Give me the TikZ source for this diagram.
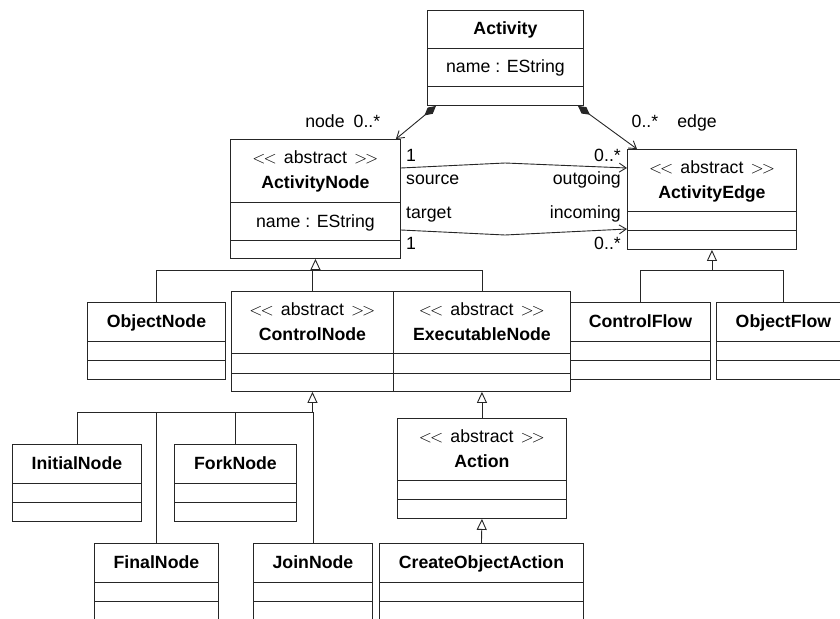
\documentclass[tikz,border=0pt]{standalone}
\usepackage{fontspec}
\setmainfont{Liberation Sans}
\usetikzlibrary{arrows.meta,calc}
\newcommand\umlbox[7]{%
  \node[clsbox, minimum width=#4pt, minimum height=#5pt, anchor=north west] (#1) at (#2,#3) {};
  \draw[clsline] ($(#1.north west)+(0,#6)$) -- ($(#1.north east)+(0,#6)$);
  \draw[clsline] ($(#1.north west)+(0,#7)$) -- ($(#1.north east)+(0,#7)$);
}
\newcommand\umltitle[2]{%
  \node[lbl, anchor=base] (#1-t) at ($(#1.north)+(0,25)$) {\textbf{#2}};
}
\newcommand\umlabstract[2]{%
  \node[lbl, anchor=base] (#1-s) at ($(#1.north)+(0,24)$) {\ensuremath{<\mkern-2mu<}\hspace{0.4em}abstract\hspace{0.4em}\ensuremath{>\mkern-2mu>}};
  \node[lbl, anchor=base] (#1-t) at ($(#1.north)+(0,49)$) {\textbf{#2}};
}
\begin{document}
\begin{tikzpicture}[x=1pt,y=-1pt,
  clsbox/.style={draw=black!85, line width=0.9pt, inner sep=0pt, rectangle},
  clsline/.style={draw=black!85, line width=0.9pt},
  conn/.style={draw=black!85, line width=0.9pt},
  lbl/.style={inner sep=0pt, font=\fontsize{17.7}{21}\selectfont},
  gen/.style={conn, -{Triangle[open, length=11pt, width=10pt, fill=white]}},
  assoc/.style={conn, -{Straight Barb[length=7pt, width=9pt]}},
  comp/.style={conn, {Diamond[length=15pt, width=8pt]}-{Straight Barb[length=7pt, width=9pt]}}
]
\useasboundingbox (0,0) rectangle (840,618);
\clip (0,0) rectangle (840,618);

% classes
\umlbox{act}{427}{10}{156}{95}{38}{76}
\umltitle{act}{Activity}
\node[lbl, anchor=base] (act-a) at ($(act.north)+(0,63)$) {name : EString};

\umlbox{anode}{230}{139}{170}{119}{63}{101}
\umlabstract{anode}{ActivityNode}
\node[lbl, anchor=base] (anode-a) at ($(anode.north)+(0,88)$) {name : EString};

\umlbox{aedge}{627}{149}{169}{100}{62}{81}
\umlabstract{aedge}{ActivityEdge}

\umlbox{onode}{87}{302}{138}{77}{39}{58}
\umltitle{onode}{ObjectNode}

\umlbox{cnode}{231}{291}{162}{100}{62}{82}
\umlabstract{cnode}{ControlNode}

\umlbox{enode}{393}{291}{177}{100}{62}{82}
\umlabstract{enode}{ExecutableNode}

\umlbox{cflow}{570}{302}{140}{77}{39}{58}
\umltitle{cflow}{ControlFlow}

\umlbox{oflow}{716}{302}{134}{77}{39}{58}
\umltitle{oflow}{ObjectFlow}

\umlbox{init}{12}{444}{129}{77}{39}{58}
\umltitle{init}{InitialNode}

\umlbox{fork}{174}{444}{122}{77}{39}{58}
\umltitle{fork}{ForkNode}

\umlbox{final}{94}{543}{124}{100}{39}{58}
\umltitle{final}{FinalNode}

\umlbox{join}{253}{543}{119}{100}{39}{58}
\umltitle{join}{JoinNode}

\umlbox{action}{397}{418}{169}{100}{62}{81}
\umlabstract{action}{Action}

\umlbox{coa}{379}{543}{204}{100}{39}{58}
\umltitle{coa}{CreateObjectAction}

% compositions
\draw[comp] ($(act.south west)+(9,0)$) -- ($(anode.north east)+(-5,0)$);
\draw[comp] ($(act.south east)+(-6,0)$) -- ($(aedge.north west)+(10,0)$);
\node[lbl, anchor=base] (l-node) at (325,127) {node};
\node[lbl, anchor=base] (l-nodem) at (367,127) {0..*};
\node[lbl, anchor=base] (l-edgem) at (645,127) {0..*};
\node[lbl, anchor=base] (l-edge) at (697,127) {edge};

% associations
\coordinate (mid1) at (505,163);
\coordinate (mid2) at (505,235);
\draw[assoc] ($(anode.north east)+(0,29)$) -- (mid1) -- ($(aedge.north west)+(0,19)$);
\draw[assoc] ($(anode.north east)+(0,91)$) -- (mid2) -- ($(aedge.north west)+(0,80)$);
\node[lbl, anchor=base west] (l-s1) at (406,161) {1};
\node[lbl, anchor=base east] (l-sm) at (621,161) {0..*};
\node[lbl, anchor=base west] (l-src) at (406,184) {source};
\node[lbl, anchor=base east] (l-out) at (621,184) {outgoing};
\node[lbl, anchor=base west] (l-tgt) at (406,218) {target};
\node[lbl, anchor=base east] (l-in) at (621,218) {incoming};
\node[lbl, anchor=base west] (l-t1) at (406,249) {1};
\node[lbl, anchor=base east] (l-tm) at (621,249) {0..*};

% generalisations
\coordinate (j1) at ($(anode.south)+(0,12)$);
\draw[conn] (onode.north) |- (j1);
\draw[conn] (enode.north) |- (j1);
\draw[conn] (cnode.north) |- (j1);
\draw[gen] (j1) -- (anode.south);

\coordinate (j2) at ($(aedge.south)+(0,21)$);
\draw[conn] (cflow.north) |- (j2);
\draw[conn] (oflow.north) |- (j2);
\draw[gen] (j2) -- (aedge.south);

\coordinate (j3) at ($(cnode.south)+(0,21)$);
\draw[conn] (init.north) |- (j3);
\draw[conn] (final.north) |- (j3);
\draw[conn] (fork.north) |- (j3);
\draw[conn] (join.north) |- (j3);
\draw[gen] (j3) -- (cnode.south);

\draw[gen] (action.north) -- (enode.south);
\draw[gen] (coa.north) -- (action.south);
\end{tikzpicture}
\end{document}
